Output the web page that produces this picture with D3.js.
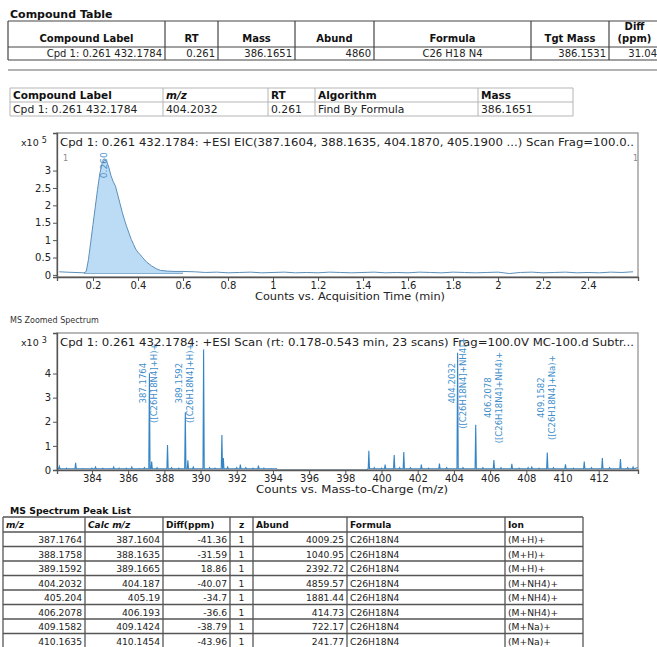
<!DOCTYPE html>
<html><head><meta charset="utf-8">
<script src="https://cdn.jsdelivr.net/npm/d3@7"></script>
<style>body{margin:0;background:#fff;} svg{display:block;}</style>
</head><body><svg id="c" width="657" height="647"></svg>
<script>
// ---------------- DATA ----------------
const compoundHeaders = ["Compound Label","RT","Mass","Abund","Formula","Tgt Mass","Diff (ppm)"];
const compoundRow = ["Cpd 1: 0.261 432.1784","0.261","386.1651","4860","C26 H18 N4","386.1531","31.04"];

const summaryHeaders = ["Compound Label","m/z","RT","Algorithm","Mass"];
const summaryRow = ["Cpd 1: 0.261 432.1784","404.2032","0.261","Find By Formula","386.1651"];

const eicTitle = "Cpd 1: 0.261 432.1784: +ESI EIC(387.1604, 388.1635, 404.1870, 405.1900 ...) Scan Frag=100.0..";
const eicTime = [0.05,0.08,0.12,0.16,0.17,0.18,0.19,0.20,0.21,0.22,0.23,0.24,0.25,0.26,0.27,0.28,0.29,0.30,0.31,0.32,0.33,0.34,0.35,0.36,0.37,0.38,0.39,0.40,0.41,0.42,0.44,0.46,0.48,0.50,0.53,0.56,0.60,
  0.65,0.70,0.75,0.80,0.85,0.90,0.95,1.00,1.05,1.10,1.15,1.20,1.25,1.30,1.35,1.40,1.45,1.50,1.55,1.60,1.65,1.70,1.75,1.80,1.85,1.90,1.95,2.00,2.05,2.10,2.15,2.20,2.25,2.30,2.35,2.40,2.45,2.50,2.55,2.60];
const eicCounts = [0.09,0.08,0.07,0.06,0.10,0.45,0.95,1.45,1.95,2.45,2.90,3.20,3.30,3.28,3.10,2.85,2.68,2.55,2.30,2.05,1.80,1.58,1.38,1.20,1.02,0.88,0.74,0.65,0.58,0.50,0.36,0.26,0.18,0.13,0.11,0.10,0.10,
  0.09,0.07,0.08,0.06,0.07,0.08,0.06,0.07,0.08,0.06,0.07,0.06,0.08,0.07,0.06,0.07,0.08,0.06,0.07,0.06,0.08,0.07,0.06,0.08,0.07,0.06,0.07,0.08,0.04,0.07,0.08,0.06,0.07,0.08,0.06,0.07,0.06,0.08,0.07,0.09];
const eicPeakRange = [0.16, 0.60];
const eicPeakLabel = "0.260";
const eicPeakTime = 0.25;
const eicXTicks = [0.2,0.4,0.6,0.8,1,1.2,1.4,1.6,1.8,2,2.2,2.4];
const eicYTicks = [0,0.5,1,1.5,2,2.5,3];
const eicXTitle = "Counts vs. Acquisition Time (min)";

const msTitle = "Cpd 1: 0.261 432.1784: +ESI Scan (rt: 0.178-0.543 min, 23 scans) Frag=100.0V MC-100.d  Subtr...";
const msPeakMz = [382.2,382.6,383.1,383.5,384.0,384.2,384.6,385.0,385.2,385.5,385.9,386.2,386.6,386.9,387.1764,387.3,387.6,388.1758,388.4,388.8,389.1592,389.3,389.6,390.17,390.5,390.8,391.18,391.26,391.5,392.0,392.2,392.5,392.9,393.2,393.5,393.9,
  399.3,399.6,400.0,400.2,400.7,401.0,401.23,401.6,402.2,402.6,403.2,403.6,404.2032,404.5,405.204,405.6,406.2078,406.6,407.2,407.6,408.1,408.3,408.7,409.1582,409.5,410.1635,410.6,411.2,411.6,412.2,412.6,413.2,413.6,413.9];
const msPeakAbund = [0.15,0.08,0.30,0.06,0.08,0.12,0.07,0.06,0.12,0.08,0.07,0.12,0.06,0.10,4.01,0.35,0.10,1.04,0.10,0.08,2.39,0.40,0.12,5.00,0.10,0.08,1.45,0.50,0.12,0.10,0.22,0.10,0.08,0.18,0.08,0.06,
  0.80,0.10,0.08,0.22,0.62,0.10,0.75,0.10,0.22,0.08,0.27,0.10,4.86,0.10,1.88,0.10,0.41,0.10,0.26,0.08,0.10,0.12,0.08,0.72,0.10,0.24,0.08,0.35,0.10,0.50,0.10,0.45,0.10,0.12];
const msGap = [394.2, 399.15];
const msLabelMz = [387.1764,389.1592,404.2032,406.2078,409.1582];
const msLabelAbund = [4.01,2.39,4.86,0.41,0.72];
const msLabelIon = ["([C26H18N4]+H)+","([C26H18N4]+H)+","([C26H18N4]+NH4)+","([C26H18N4]+NH4)+","([C26H18N4]+Na)+"];
const msXTicks = [384,386,388,390,392,394,396,398,400,402,404,406,408,410,412];
const msYTicks = [0,1,2,3,4];
const msXTitle = "Counts vs. Mass-to-Charge (m/z)";

const peakHeaders = ["m/z","Calc m/z","Diff(ppm)","z","Abund","Formula","Ion"];
const peakMz = ["387.1764","388.1758","389.1592","404.2032","405.204","406.2078","409.1582","410.1635"];
const peakCalc = ["387.1604","388.1635","389.1665","404.187","405.19","406.193","409.1424","410.1454"];
const peakDiff = ["-41.36","-31.59","18.86","-40.07","-34.7","-36.6","-38.79","-43.96"];
const peakZ = ["1","1","1","1","1","1","1","1"];
const peakAbund = ["4009.25","1040.95","2392.72","4859.57","1881.44","414.73","722.17","241.77"];
const peakFormula = ["C26H18N4","C26H18N4","C26H18N4","C26H18N4","C26H18N4","C26H18N4","C26H18N4","C26H18N4"];
const peakIon = ["(M+H)+","(M+H)+","(M+H)+","(M+NH4)+","(M+NH4)+","(M+NH4)+","(M+Na)+","(M+Na)+"];

// ---------------- DRAW ----------------
const svg = d3.select("#c");
const FT = "'DejaVu Sans', Verdana, sans-serif";
const FC = "'DejaVu Sans', Arial, sans-serif";

function drawTable(xs, ys, headers, rows, o) {
  const g = svg.append("g");
  const x0 = xs[0], x1 = xs[xs.length-1], y0 = ys[0], y1 = ys[ys.length-1];
  ys.forEach(y => g.append("line").attr("x1",x0).attr("x2",x1).attr("y1",y).attr("y2",y)
    .attr("stroke",o.stroke).attr("stroke-width",o.sw));
  xs.forEach(x => g.append("line").attr("x1",x).attr("x2",x).attr("y1",y0).attr("y2",y1)
    .attr("stroke",o.stroke).attr("stroke-width",o.sw));
  const pos = (i, a) => a === "start" ? xs[i] + o.pad : a === "end" ? xs[i+1] - o.pad : (xs[i] + xs[i+1]) / 2;
  headers.forEach((h, i) => {
    const a = o.hAlign[i];
    const t = g.append("text").attr("x", pos(i,a)).attr("y", ys[1] - o.hDesc)
      .attr("text-anchor", a).attr("font-family", o.hFont || FT).attr("font-size", o.hfs)
      .attr("font-weight", "bold").attr("fill", "#111")
      .attr("font-style", o.italic.includes(i) ? "italic" : "normal").text(h);
    if (t.node().getComputedTextLength() > xs[i+1] - xs[i] - 4 && h.includes(" ")) {
      const parts = h.split(" ");
      t.text(null);
      t.append("tspan").attr("x", pos(i,a)).attr("dy", -o.lh).text(parts[0]);
      t.append("tspan").attr("x", pos(i,a)).attr("dy", o.lh).text(parts.slice(1).join(" "));
    }
  });
  rows.forEach((r, ri) => {
    r.forEach((c, i) => {
      const a = o.dAlign[i];
      g.append("text").attr("x", pos(i,a)).attr("y", ys[ri+2] - o.dDesc)
        .attr("text-anchor", a).attr("font-family", FT).attr("font-size", o.dfs)
        .attr("fill", "#222").text(c);
    });
  });
}

// Compound table
svg.append("text").attr("x",10).attr("y",18).attr("font-family",FT).attr("font-size",11)
  .attr("font-weight","bold").attr("fill","#111").text("Compound Table");
drawTable([8,165,218,295,374,531,609,660],[21,47,60],compoundHeaders,[compoundRow],{
  stroke:"#444", sw:1.2, pad:3, hfs:10, dfs:10, hDesc:5, dDesc:2.8, lh:12.5, italic:[],
  hAlign:["middle","middle","middle","middle","middle","middle","middle"],
  dAlign:["end","end","end","end","middle","end","end"]});
svg.append("line").attr("x1",8).attr("x2",657).attr("y1",70).attr("y2",70).attr("stroke","#999").attr("stroke-width",1.5);

// Summary table
drawTable([10,163,268,315,478,573],[88,102,116],summaryHeaders,[summaryRow],{
  stroke:"#b5b5b5", sw:1, pad:3, hfs:10.5, dfs:10.8, hDesc:3, dDesc:3, lh:12, italic:[1],
  hAlign:["start","start","start","start","start"],
  dAlign:["start","start","start","start","start"]});

// -------- Chart helper --------
function frame(L, R, T, B) {
  svg.append("rect").attr("x",L).attr("y",T).attr("width",R-L).attr("height",B-T)
    .attr("fill","none").attr("stroke","#8a8a8a").attr("stroke-width",1.2);
}
function axes(x, y, B, L, xt, yt) {
  const gx = svg.append("g").attr("transform",`translate(0,${B})`)
    .call(d3.axisBottom(x).tickValues(xt).tickSize(4).tickPadding(1).tickFormat(d => String(d)));
  const gy = svg.append("g").attr("transform",`translate(${L},0)`)
    .call(d3.axisLeft(y).tickValues(yt).tickSize(4).tickPadding(2).tickFormat(d => String(d)));
  [gx, gy].forEach(g => {
    g.select(".domain").attr("stroke","#555").attr("stroke-width",1.3);
    g.selectAll(".tick line").attr("stroke","#555");
    g.selectAll(".tick text").attr("font-family",FC).attr("font-size",10).attr("fill","#222");
  });
}
function exponent(xp, yb, e) {
  const t = svg.append("text").attr("x",xp).attr("y",yb).attr("font-family",FC)
    .attr("font-size",9.5).attr("fill","#222").text("x10");
  t.append("tspan").attr("dx",3).attr("dy",-3).attr("font-size",8).text(e);
}

// -------- EIC chart --------
{
  const L = 57, R = 638, T = 133, B = 277;
  const x = d3.scaleLinear().domain([0.04, 2.622]).range([L, R]);
  const y = d3.scaleLinear().domain([-0.06, 4.08]).range([B, T]);
  const pts = eicTime.map((t, i) => [t, eicCounts[i]]);
  const inPeak = pts.filter(p => p[0] >= eicPeakRange[0] && p[0] <= eicPeakRange[1]);
  svg.append("path").datum(inPeak)
    .attr("d", d3.area().x(d => x(d[0])).y0(y(0.04)).y1(d => y(d[1])))
    .attr("fill","#bcdcf6").attr("stroke","none");
  svg.append("line").attr("x1",x(eicPeakRange[0])).attr("x2",x(eicPeakRange[1]))
    .attr("y1",y(0.04)).attr("y2",y(0.04)).attr("stroke","#6d9cc4").attr("stroke-width",0.8);
  svg.append("path").datum(pts)
    .attr("d", d3.line().x(d => x(d[0])).y(d => y(d[1])))
    .attr("fill","none").attr("stroke","#5b8fb9").attr("stroke-width",1);
  frame(L, R, T, B);
  axes(x, y, B, L, eicXTicks, eicYTicks);
  svg.append("text").attr("x",350).attr("y",300).attr("text-anchor","middle")
    .attr("font-family",FC).attr("font-size",10).attr("fill","#222")
    .attr("textLength",190).attr("lengthAdjust","spacingAndGlyphs").text(eicXTitle);
  svg.append("text").attr("x",60).attr("y",146).attr("font-family",FC).attr("font-size",10)
    .attr("fill","#222").attr("textLength",574).attr("lengthAdjust","spacingAndGlyphs").text(eicTitle);
  exponent(21, 146, "5");
  svg.append("text").attr("x",63).attr("y",161).attr("font-family",FC).attr("font-size",8).attr("fill","#888").text("1");
  svg.append("text").attr("x",633).attr("y",161).attr("font-family",FC).attr("font-size",8).attr("fill","#888").text("1");
  const peakV = d3.max(inPeak, d => d[1]);
  svg.append("text").attr("transform",`translate(${x(eicPeakTime)+3},${y(peakV)+18}) rotate(-90)`)
    .attr("font-family",FC).attr("font-size",9).attr("fill","#4a90c8").text(eicPeakLabel);
}

// -------- MS spectrum --------
svg.append("text").attr("x",10).attr("y",323).attr("font-family",FT).attr("font-size",8)
  .attr("fill","#333").text("MS Zoomed Spectrum");
{
  const L = 57, R = 638, T = 333, B = 470;
  const x = d3.scaleLinear().domain([382.07, 414.17]).range([L, R]);
  const y = d3.scaleLinear().domain([0, 5.68]).range([B, T]);
  const base = 0.05, w = 0.035;
  const pts = [[382.07, 0.1]];
  msPeakMz.forEach((m, i) => {
    if (m > msGap[1] && pts[pts.length-1][0] < msGap[0]) {
      pts.push([msGap[0], base], [msGap[0]+0.05, 0], [msGap[1], 0]);
    }
    pts.push([m - w, base], [m, msPeakAbund[i]], [m + w, base]);
  });
  pts.push([414.17, 0.1]);
  svg.append("path").datum(pts)
    .attr("d", d3.line().x(d => x(d[0])).y(d => y(d[1])))
    .attr("fill","none").attr("stroke","#3585c6").attr("stroke-width",1.1);
  frame(L, R, T, B);
  axes(x, y, B, L, msXTicks, msYTicks);
  svg.append("text").attr("x",352).attr("y",493).attr("text-anchor","middle")
    .attr("font-family",FC).attr("font-size",10).attr("fill","#222")
    .attr("textLength",192).attr("lengthAdjust","spacingAndGlyphs").text(msXTitle);
  svg.append("text").attr("x",60).attr("y",346).attr("font-family",FC).attr("font-size",10)
    .attr("fill","#222").attr("textLength",574).attr("lengthAdjust","spacingAndGlyphs").text(msTitle);
  exponent(21, 346, "3");
  msLabelMz.forEach((m, i) => {
    const px = x(m), cy = y(msLabelAbund[i] > 2 ? 3.6 : 3.0);
    svg.append("text").attr("transform",`translate(${px-6},${cy}) rotate(-90)`)
      .attr("text-anchor","middle").attr("dy","0.35em").attr("font-family",FC).attr("font-size",8.5)
      .attr("fill","#3d8dca").text(m.toFixed(4));
    svg.append("text").attr("transform",`translate(${px+5},${cy}) rotate(-90)`)
      .attr("text-anchor","middle").attr("dy","0.35em").attr("font-family",FC).attr("font-size",8.5)
      .attr("fill","#3d8dca").text(msLabelIon[i]);
  });
}

// Peak list table
svg.append("text").attr("x",10).attr("y",514).attr("font-family",FT).attr("font-size",9.3)
  .attr("font-weight","bold").attr("fill","#111").text("MS Spectrum Peak List");
{
  const ys = [517, 532];
  peakMz.forEach(() => ys.push(ys[ys.length-1] + 14.5));
  const rows = peakMz.map((m, i) => [m, peakCalc[i], peakDiff[i], peakZ[i], peakAbund[i], peakFormula[i], peakIon[i]]);
  drawTable([3,85,163,230,253,347,505,583], ys, peakHeaders, rows, {
    stroke:"#555", sw:1.3, pad:3, hfs:9, dfs:9.2, hDesc:4, dDesc:3.5, lh:12, italic:[0,1],
    hAlign:["start","start","start","middle","start","start","start"],
    dAlign:["end","end","end","middle","end","start","start"]});
}
</script></body></html>
